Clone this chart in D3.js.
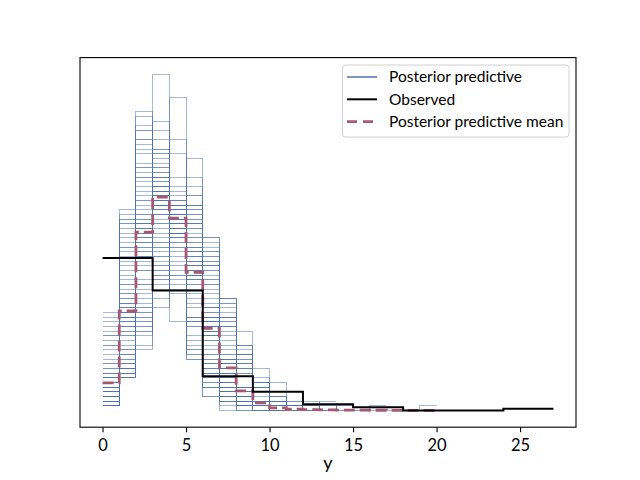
<!DOCTYPE html>
<html><head><meta charset="utf-8">
<script src="https://cdn.jsdelivr.net/npm/d3@7"></script>
<style>
body{margin:0;background:#fff;}
svg{display:block;font-family:Lato,"Open Sans",sans-serif;}
</style>
</head><body>
<svg id="c" width="640" height="480"></svg>
<script>
const nObs = 216;
const xTicks = [0, 5, 10, 15, 20, 25];
const xLabel = "y";
const legendLabels = ["Posterior predictive", "Observed", "Posterior predictive mean"];

// observed histogram, bin width 3 (edges 0..27)
const observedStart = 0;
const observedWidth = 3;
const observedCounts = [98, 77, 22, 12, 4, 2, 0, 0, 1];

// posterior predictive mean, bin width 1 (edges 0..20)
const meanCounts = [5.9, 21.3, 38.2, 45.7, 41.2, 29.6, 17.6, 9.1, 4.2, 1.6, 0.55, 0.25, 0.15, 0.1, 0.06, 0.04, 0.03, 0.02, 0.01, 0.01];

// posterior predictive draws, bin width 1 starting at 0
const ppSamples = [
  [21, 43, 58, 48, 26, 12, 5, 2, 1],
  [17, 40, 64, 50, 27, 11, 5, 1, 0, 1],
  [15, 38, 55, 52, 31, 15, 6, 3, 1],
  [13, 36, 52, 46, 35, 19, 9, 4, 1, 0, 1],
  [12, 34, 49, 53, 33, 18, 10, 4, 2, 1],
  [11, 32, 53, 49, 36, 19, 9, 5, 1, 1],
  [10, 30, 47, 51, 37, 23, 10, 5, 2, 0, 1],
  [9, 33, 50, 44, 38, 22, 12, 5, 2, 1],
  [8, 27, 45, 47, 39, 26, 13, 7, 3, 1],
  [7, 26, 42, 50, 40, 27, 14, 6, 2, 1, 0, 1],
  [8, 24, 44, 45, 42, 28, 15, 6, 3, 1],
  [6, 25, 41, 48, 43, 27, 15, 7, 3, 1],
  [7, 23, 40, 49, 41, 30, 16, 6, 2, 1, 1],
  [6, 22, 39, 46, 44, 29, 17, 8, 3, 1, 1],
  [5, 24, 43, 44, 40, 31, 16, 8, 3, 2],
  [6, 21, 38, 51, 42, 30, 16, 8, 3, 0, 1],
  [5, 22, 37, 47, 44, 31, 17, 7, 3, 1, 0, 1],
  [6, 20, 40, 45, 41, 32, 18, 9, 3, 2],
  [4, 21, 36, 48, 43, 32, 18, 9, 4, 1],
  [5, 19, 39, 44, 42, 33, 19, 9, 4, 1, 1],
  [4, 20, 35, 46, 44, 31, 20, 10, 4, 1, 1],
  [5, 18, 37, 43, 41, 34, 21, 10, 5, 2],
  [4, 19, 34, 45, 45, 33, 20, 10, 4, 1, 0, 1],
  [3, 18, 36, 42, 43, 35, 21, 11, 5, 2],
  [5, 17, 33, 44, 46, 34, 20, 10, 4, 2, 1],
  [4, 16, 35, 40, 44, 35, 22, 12, 5, 2, 1],
  [3, 17, 32, 43, 42, 36, 23, 12, 5, 2, 0, 1],
  [6, 23, 38, 42, 39, 30, 19, 11, 5, 2, 1],
  [7, 22, 41, 44, 38, 29, 17, 10, 5, 2, 1],
  [5, 21, 36, 50, 40, 28, 18, 10, 5, 2, 1],
  [6, 20, 42, 47, 37, 29, 18, 9, 5, 2, 0, 1],
  [4, 23, 39, 41, 43, 30, 19, 10, 4, 2, 1],
  [5, 20, 34, 47, 39, 33, 20, 11, 4, 2, 1],
  [3, 20, 38, 44, 41, 31, 22, 10, 4, 2, 1],
  [4, 18, 40, 48, 38, 32, 19, 11, 4, 1, 1],
  [6, 19, 33, 46, 42, 34, 20, 9, 4, 2, 1],
  [5, 25, 37, 45, 40, 29, 18, 10, 4, 2, 0, 1],
  [7, 21, 39, 43, 41, 31, 19, 9, 4, 1, 1],
  [3, 13, 28, 38, 42, 36, 26, 15, 8, 4, 2, 1],
  [2, 12, 26, 37, 44, 38, 27, 16, 8, 4, 1, 0, 1],
  [3, 11, 24, 35, 41, 39, 29, 18, 9, 4, 2, 1],
  [2, 10, 25, 34, 40, 37, 30, 19, 10, 5, 2, 1, 0, 1],
  [2, 9, 22, 33, 42, 40, 31, 18, 11, 5, 2, 1],
  [1, 8, 20, 32, 39, 42, 33, 20, 12, 5, 3, 1],
  [2, 9, 19, 30, 41, 41, 32, 22, 12, 5, 2, 0, 1],
  [1, 7, 18, 29, 38, 43, 35, 23, 13, 6, 2, 1],
  [1, 8, 16, 27, 40, 43, 34, 24, 14, 6, 0, 2, 0, 0, 1],
  [2, 7, 18, 28, 37, 42, 36, 24, 14, 5, 2, 0, 0, 0, 0, 0, 0, 0, 0, 1],
  [1, 9, 21, 31, 39, 40, 32, 21, 12, 6, 2, 1, 1],
  [3, 12, 27, 36, 40, 37, 28, 17, 9, 4, 2, 0, 1],
  [4, 20, 45, 72, 41, 20, 8, 4, 1, 1],
  [3, 14, 30, 40, 67, 34, 17, 7, 3, 1],
  [2, 10, 23, 35, 43, 54, 27, 14, 5, 2, 1],
  [1, 7, 14, 24, 36, 44, 37, 24, 17, 7, 3, 1, 1],
  [18, 42, 61, 22, 34, 20, 11, 5, 2, 1],
  [9, 35, 60, 50, 19, 25, 10, 5, 2, 1],
  [14, 39, 56, 60, 29, 12, 3, 2, 0, 0, 1],
  [1, 8, 19, 30, 37, 40, 31, 20, 12, 9, 4, 2, 2, 0, 1],
  [2, 9, 20, 29, 38, 41, 30, 18, 11, 6, 6, 4, 0, 2],
  [1, 7, 17, 26, 35, 44, 37, 23, 14, 6, 3, 1, 0, 1, 0, 0, 1],
  [2, 8, 13, 31, 45, 46, 33, 20, 10, 5, 2, 1],
  [16, 41, 63, 56, 25, 11, 3, 0, 1],
  [19, 41, 57, 47, 29, 13, 6, 3, 1],
  [14, 35, 58, 55, 30, 14, 7, 2, 1],
  [10, 29, 51, 58, 38, 18, 8, 3, 1],
  [8, 28, 46, 62, 40, 20, 8, 3, 1],
  [5, 20, 40, 55, 50, 28, 12, 4, 2],
  [4, 16, 31, 48, 58, 35, 16, 6, 2],
  [3, 12, 27, 42, 55, 44, 22, 8, 2, 1],
  [2, 11, 22, 36, 48, 48, 28, 13, 5, 2, 1],
  [1, 9, 17, 28, 44, 50, 34, 19, 9, 3, 1, 1],
  [20, 40, 52, 45, 32, 16, 7, 3, 1],
  [6, 27, 48, 52, 42, 24, 11, 4, 1, 1],
  [2, 13, 30, 44, 47, 39, 24, 11, 4, 2],
  [3, 15, 33, 39, 45, 40, 25, 10, 4, 1, 1],
  [1, 10, 21, 33, 38, 46, 31, 20, 10, 4, 1, 0, 1],
  [16, 37, 60, 54, 28, 13, 5, 2, 1],
  [7, 31, 50, 56, 38, 19, 9, 4, 1, 1]
];

// ---- chart ----
const plotL = 80, plotR = 576, plotT = 57.6, plotB = 427.2;
const svg = d3.select("#c");

// step points in density units (steps-pre, first point repeated)
function stepPoints(counts, start, width) {
  const pts = [{x: start, y: counts[0] / (nObs * width)}];
  counts.forEach((c, i) => pts.push({x: start + (i + 1) * width, y: c / (nObs * width)}));
  return pts;
}
const ppPts = ppSamples.map(s => stepPoints(s, 0, 1));
const obsPts = stepPoints(observedCounts, observedStart, observedWidth);
const meanPts = stepPoints(meanCounts, 0, 1);

const allPts = ppPts.flat().concat(obsPts, meanPts);
const xMin = d3.min(allPts, d => d.x), xMax = d3.max(allPts, d => d.x);
const yMin = 0, yMax = d3.max(allPts, d => d.y);
const xPad = (xMax - xMin) * 0.05, yPad = (yMax - yMin) * 0.05;
const x = d3.scaleLinear().domain([xMin - xPad, xMax + xPad]).range([plotL, plotR]);
const y = d3.scaleLinear().domain([yMin - yPad, yMax + yPad]).range([plotB, plotT]);

const line = d3.line().x(d => x(d.x)).y(d => y(d.y)).curve(d3.curveStepBefore);

const gPP = svg.append("g");
gPP.selectAll("path").data(ppPts).join("path")
  .attr("d", line)
  .attr("fill", "none")
  .attr("stroke", "#4c72b0")
  .attr("stroke-opacity", 0.5)
  .attr("stroke-width", 1)
  .attr("shape-rendering", "crispEdges");

svg.append("path").datum(meanPts)
  .attr("d", line).attr("fill", "none")
  .attr("stroke", "#a5586f").attr("stroke-width", 2.8)
  .attr("stroke-dasharray", "11,5");

svg.append("path").datum(obsPts)
  .attr("d", line).attr("fill", "none")
  .attr("stroke", "#000").attr("stroke-width", 2);

// frame
svg.append("rect").attr("x", plotL).attr("y", plotT)
  .attr("width", plotR - plotL).attr("height", plotB - plotT)
  .attr("fill", "none").attr("stroke", "#000").attr("stroke-width", 1.1);

// x axis
const ax = svg.append("g").attr("transform", `translate(0,${plotB})`)
  .call(d3.axisBottom(x).tickValues(xTicks).tickSize(5).tickSizeOuter(0).tickPadding(7).tickFormat(d3.format("d")));
ax.select(".domain").remove();
ax.selectAll(".tick line").attr("stroke", "#000").attr("stroke-width", 1.1);
ax.selectAll(".tick text").attr("fill", "#000").style("font-size", "16.5px").style("font-family", "Lato, sans-serif");

svg.append("text").attr("x", (plotL + plotR) / 2).attr("y", 469)
  .attr("text-anchor", "middle").style("font-size", "18px").text(xLabel);

// legend
const lg = svg.append("g");
lg.append("rect").attr("x", 342.5).attr("y", 65).attr("width", 226.5).attr("height", 72)
  .attr("rx", 3).attr("fill", "#fff").attr("fill-opacity", 0.8)
  .attr("stroke", "#d0d0d0").attr("stroke-width", 1);
const rowsY = [77, 99.3, 121.7];
const styles = [
  {stroke: "#4c72b0", w: 1.5, dash: null},
  {stroke: "#000", w: 2, dash: null},
  {stroke: "#a5586f", w: 2.8, dash: "10,6"}
];
legendLabels.forEach((t, i) => {
  lg.append("line").attr("x1", 347).attr("x2", 377).attr("y1", rowsY[i]).attr("y2", rowsY[i])
    .attr("stroke", styles[i].stroke).attr("stroke-width", styles[i].w)
    .attr("stroke-dasharray", styles[i].dash);
  lg.append("text").attr("x", 389).attr("y", rowsY[i] + 5.4)
    .style("font-size", "15.5px").attr("fill", "#000").text(t);
});
</script>
</body></html>
